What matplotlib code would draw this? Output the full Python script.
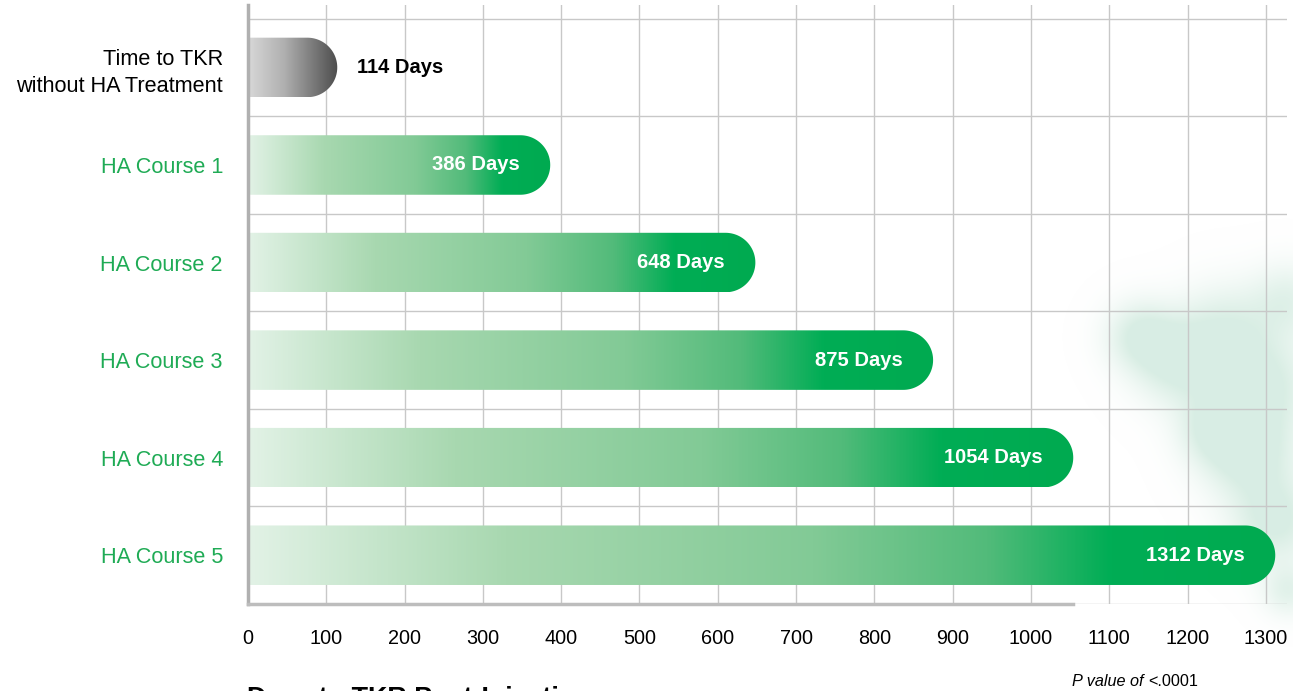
import matplotlib
matplotlib.use("Agg")
import matplotlib.pyplot as plt
import numpy as np
from matplotlib.colors import LinearSegmentedColormap
from matplotlib.patches import PathPatch
from matplotlib.path import Path

plt.rcParams['font.family'] = ['Liberation Sans', 'DejaVu Sans']

# data
categories = ["Time to TKR\nwithout HA Treatment", "HA Course 1", "HA Course 2",
              "HA Course 3", "HA Course 4", "HA Course 5"]
days = [114, 386, 648, 875, 1054, 1312]
labels = [f"{d} Days" for d in days]
x_ticks = list(range(0, 1301, 100))

W, H = 1293, 691
fig = plt.figure(figsize=(W / 100, H / 100), dpi=100)

# soft green splotch in the background (decoration only)
bg = fig.add_axes([0, 0, 1, 1], zorder=-1)
bg.axis("off")
yy, xx = np.mgrid[0:H, 0:W]
field = np.zeros((H, W))
for cx, cy, s, a in [(1140, 335, 24, 0.8), (1178, 362, 30, 0.9), (1225, 330, 32, 0.7),
                     (1262, 385, 34, 0.9), (1248, 452, 32, 1.0), (1212, 428, 24, 0.7),
                     (1275, 520, 30, 0.9), (1288, 590, 18, 0.6), (1288, 300, 26, 0.6)]:
    field += a * np.exp(-((xx - cx) ** 2 + (yy - cy) ** 2) / (2 * s ** 2))
alpha = np.clip(field * 1.2, 0, 1) * 0.75
img = np.zeros((H, W, 4))
img[..., 0], img[..., 1], img[..., 2] = 0.80, 0.91, 0.86
img[..., 3] = alpha
bg.imshow(img, extent=[0, W, H, 0], aspect="auto", interpolation="bilinear")
bg.set_xlim(0, W)
bg.set_ylim(H, 0)

ax = fig.add_axes([248 / W, 1 - 604 / H, (1287 - 248) / W, (604 - 5) / H])
ax.set_facecolor("none")
xmax = 1327
y_lo, y_hi = 5.47, -0.64
ax.set_xlim(0, xmax)
ax.set_ylim(y_lo, y_hi)

px_x = (1287 - 248) / xmax          # pixels per day
px_y = (604 - 5) / (y_lo - y_hi)    # pixels per row
bar_h = 0.61
ry = bar_h / 2
rx = ry * px_y / px_x

gray_cmap = LinearSegmentedColormap.from_list(
    "g", [(0.0, "#d8d8d8"), (0.4, "#b0b0b0"), (1.0, "#4d4d4d")])
green_cmap = LinearSegmentedColormap.from_list(
    "gr", [(0.0, "#e2f2e6"), (0.25, "#a8d8b0"), (0.55, "#82ca96"),
           (0.72, "#52bb7a"), (0.84, "#00ad55"), (1.0, "#00aa50")])
grad = np.linspace(0, 1, 512).reshape(1, -1)

for i, (d, lab) in enumerate(zip(days, labels)):
    x0 = -5
    theta = np.linspace(-np.pi / 2, np.pi / 2, 60)
    xs = d - rx + rx * np.cos(theta)
    ys = i + ry * np.sin(theta)
    verts = [(x0, i - ry)] + list(zip(xs, ys)) + [(x0, i + ry), (x0, i - ry)]
    codes = [Path.MOVETO] + [Path.LINETO] * (len(verts) - 2) + [Path.CLOSEPOLY]
    patch = PathPatch(Path(verts, codes), fc="none", ec="none")
    ax.add_patch(patch)
    cmap = gray_cmap if i == 0 else green_cmap
    im = ax.imshow(grad, extent=[0, d, i + ry, i - ry], aspect="auto", cmap=cmap,
                   interpolation="bilinear", zorder=2)
    im.set_clip_path(patch)
    if i == 0:
        ax.annotate(lab, (d, i), xytext=(14.5, 0), textcoords="offset points",
                    ha="left", va="center", fontsize=14.5, fontweight="bold", color="black")
    else:
        ax.annotate(lab, (d, i), xytext=(-22, 0), textcoords="offset points",
                    ha="right", va="center", fontsize=14.5, fontweight="bold",
                    color="white", zorder=3)

ax.set_xlim(0, xmax)
ax.set_ylim(y_lo, y_hi)

ax.set_xticks(x_ticks)
ax.set_xticklabels([str(t) for t in x_ticks], fontsize=14.3)
ax.set_yticks(range(len(categories)))
ax.set_yticklabels(categories, fontsize=15.6, linespacing=1.35)
for k, t in enumerate(ax.get_yticklabels()):
    t.set_color("black" if k == 0 else "#1fab55")
ax.set_yticks(np.arange(-0.5, 6, 1.0), minor=True)
ax.tick_params(axis="x", length=0, pad=18)
ax.tick_params(axis="y", length=0, pad=18)
ax.tick_params(axis="y", which="minor", length=0)

ax.set_axisbelow(True)
ax.grid(axis="x", which="major", color="#c8c8c8", lw=1)
ax.grid(axis="y", which="minor", color="#c8c8c8", lw=1)

for s in ["top", "right"]:
    ax.spines[s].set_visible(False)
ax.spines["left"].set_color("#b0b0b0")
ax.spines["left"].set_linewidth(2.5)
ax.spines["bottom"].set_color("#bdbdbd")
ax.spines["bottom"].set_linewidth(2.5)
ax.spines["bottom"].set_bounds(0, 1054)

# axis title, partly cut by the lower edge as in the original
fig.text(247 / W, -0.022, "Days to TKR Post-Injection", fontsize=19.4, fontweight="bold",
         ha="left", va="baseline")

renderer = fig.canvas.get_renderer()
t1 = fig.text(1072 / W, 1 - 681 / H, "P value of ", fontsize=11.7, style="italic",
              ha="left", va="center")
bb = t1.get_window_extent(renderer)
fig.text(bb.x1 / W, 1 - 681 / H, "<.0001", fontsize=11.7, ha="left", va="center")

fig.savefig("out.png", dpi=100)
